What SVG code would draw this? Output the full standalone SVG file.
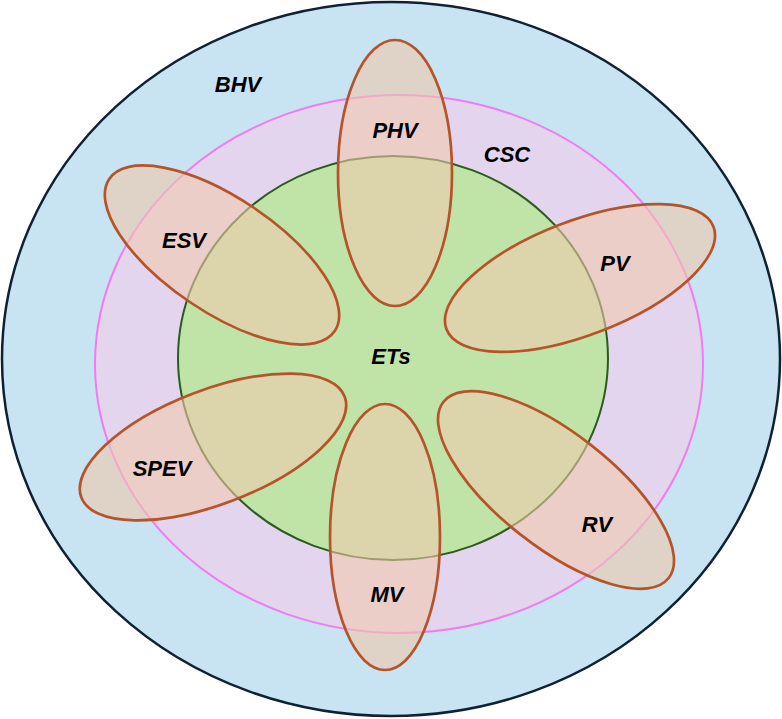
<svg xmlns="http://www.w3.org/2000/svg" width="782" height="719" viewBox="0 0 782 719">
<style>
.lbl{font-family:"Liberation Sans",Arial,sans-serif;font-weight:bold;font-style:italic;font-size:22px;fill:#000;text-anchor:middle}
.petal{fill:#efc8ab;fill-opacity:0.59;stroke:#b5542a;stroke-width:2.7}
</style>
<rect width="782" height="719" fill="#ffffff"/>
<g id="BHV">
<ellipse cx="391" cy="359" rx="389" ry="357" fill="#c8e3f1" stroke="#0f2233" stroke-width="2.5"/>
<text class="lbl" x="238" y="92">BHV</text>
</g>
<g id="CSC">
<ellipse cx="399" cy="364" rx="304" ry="269" fill="#e3d5ee" stroke="#f07cf0" stroke-width="2"/>
<text class="lbl" x="507" y="162">CSC</text>
</g>
<g id="ETs">
<ellipse cx="393" cy="358" rx="215" ry="202" fill="#c0e4a8" stroke="#2d5a1f" stroke-width="2"/>
<text class="lbl" x="391" y="364">ETs</text>
</g>
<g id="PHV">
<ellipse class="petal" cx="395" cy="173" rx="57" ry="133"/>
<text class="lbl" x="395" y="138">PHV</text>
</g>
<g id="MV">
<ellipse class="petal" cx="385" cy="537" rx="55" ry="133"/>
<text class="lbl" x="387" y="602">MV</text>
</g>
<g id="ESV">
<ellipse class="petal" cx="0" cy="0" rx="136" ry="57" transform="translate(222 255) rotate(34)"/>
<text class="lbl" x="184" y="248">ESV</text>
</g>
<g id="PV">
<ellipse class="petal" cx="0" cy="0" rx="143" ry="57" transform="translate(580 278) rotate(-21)"/>
<text class="lbl" x="615" y="271">PV</text>
</g>
<g id="SPEV">
<ellipse class="petal" cx="0" cy="0" rx="141" ry="57" transform="translate(213 447) rotate(-21)"/>
<text class="lbl" x="162" y="476">SPEV</text>
</g>
<g id="RV">
<ellipse class="petal" cx="0" cy="0" rx="143" ry="57" transform="translate(556 490) rotate(38)"/>
<text class="lbl" x="597" y="532">RV</text>
</g>
<g id="connectors"/>
</svg>
